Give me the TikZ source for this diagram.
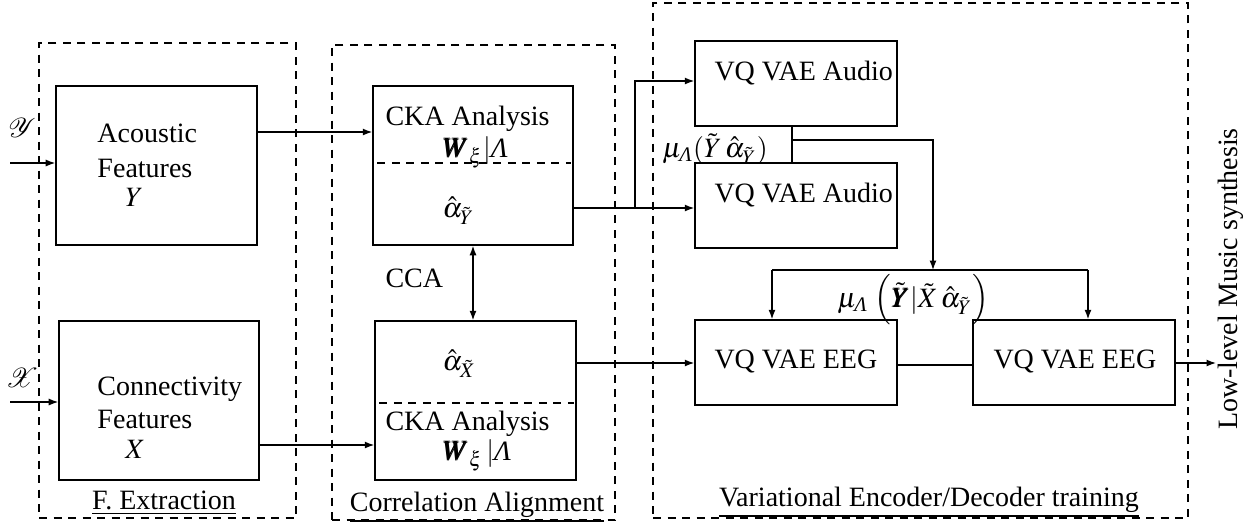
\documentclass[tikz,border=0pt]{standalone}
\usepackage{amsmath}
\usepackage{mathptmx}
\usepackage{mathrsfs}
\usepackage{bm}
\usepackage{fontspec}
\setmainfont{Liberation Serif}
\usetikzlibrary{arrows.meta,fit}
\newcommand{\iLam}{\text{\itshape Λ}}
\tikzset{
  box/.style={draw=black,line width=0.6pt,inner sep=0pt,fit={#1}},
  region/.style={draw=black,line width=0.5pt,dash pattern=on 3.2pt off 2.6pt},
  divider/.style={line width=0.5pt,dash pattern=on 3.2pt off 2.6pt},
  conn/.style={line width=0.5pt},
  arr/.style={line width=0.5pt,-{Latex[length=3.8pt,width=2.8pt]}},
  darr/.style={line width=0.5pt,{Latex[length=3.8pt,width=2.8pt]}-{Latex[length=3.8pt,width=2.8pt]}},
  txt/.style={inner sep=0pt,anchor=base west},
  ctxt/.style={inner sep=0pt,anchor=base},
}
\begin{document}
\begin{tikzpicture}[x=0.4pt,y=-0.4pt,font=\fontsize{11.2}{13.5}\selectfont]
\useasboundingbox (0,0) rectangle (1256,523);
% dashed regions
\node[region,inner sep=0pt,fit={(39,43)(296,518)}] (rfe) {};
\node[region,inner sep=0pt,fit={(332,45)(615,520)}] (rca) {};
\node[region,inner sep=0pt,fit={(653,3)(1188,518)}] (rvae) {};
% boxes
\node[box={(56,86)(257,245)}] (acou) {};
\node[box={(59,321)(259,480)}] (conn) {};
\node[box={(373,86)(573,245)}] (cka1) {};
\node[box={(375,321)(576,480)}] (cka2) {};
\node[box={(695,41)(897,126)}] (aud1) {};
\node[box={(695,163)(897,248)}] (aud2) {};
\node[box={(695,320)(897,405)}] (eeg1) {};
\node[box={(973,320)(1175,405)}] (eeg2) {};
% dividers
\draw[divider] ([xshift=2pt]cka1.west |- 0,163) -- ([xshift=-1pt]cka1.east |- 0,163);
\draw[divider] ([xshift=2pt]cka2.west |- 0,403) -- ([xshift=-1pt]cka2.east |- 0,403);
% texts
\node[txt] (t1) at (97,142) {Acoustic};
\node[txt] (t2) at (97,177) {Features};
\node[txt] (t3) at (125,206) {$Y$};
\node[txt] (t4) at (97,395) {Connectivity};
\node[txt] (t5) at (97,428) {Features};
\node[txt] (t6) at (125,458) {$X$};
\node[ctxt] (lY) at (22,137) {$\mathscr{Y}$};
\node[ctxt] (lX) at (22,387) {$\mathscr{X}$};
\node[txt] (c1) at (385,125) {CKA Analysis};
\node[txt] (c2) at (442,157) {$\bm{W}_{\xi}|\iLam$};
\node[txt] (c3) at (442,217) {$\hat{\alpha}_{\tilde{Y}}$};
\node[txt] (c4) at (442,370) {$\hat{\alpha}_{\tilde{X}}$};
\node[txt] (c5) at (385,430) {CKA Analysis};
\node[txt] (c6) at (442,460) {$\bm{W}_{\xi}\,|\iLam$};
\node[txt] (cca) at (385,287) {CCA};
\node[txt] (a1) at (714,80) {VQ VAE Audio};
\node[txt] (a2) at (714,202) {VQ VAE Audio};
\node[txt] (e1) at (714,368) {VQ VAE EEG};
\node[txt] (e2) at (993,368) {VQ VAE EEG};
\node[txt] (mu1) at (662,157) {$\mu_{\iLam}(\tilde{Y}\,\hat{\alpha}_{\tilde{Y}})$};
\node[txt] (mu2) at (837,307) {$\mu_{\iLam}\;\Bigl(\tilde{\bm{Y}}|\tilde{X}\,\hat{\alpha}_{\tilde{Y}}\Bigr)$};
\node[ctxt] (lfe) at (164,509) {\underline{F. Extraction}};
\node[ctxt] (lca) at (477,511) {\underline{Correlation Alignment}};
\node[ctxt] (lva) at (929,506) {\underline{Variational Encoder/Decoder training}};
\node[rotate=90,inner sep=0pt] (out) at (1231,279) {Low-level Music synthesis};
% connectors
\coordinate (yin) at (10,163);
\coordinate (xin) at (10,402);
\draw[arr] (yin) -- (yin -| acou.west);
\draw[arr] (xin) -- (xin -| conn.west);
\draw[arr] (acou.east |- 0,132) -- (cka1.west |- 0,132);
\draw[arr] (conn.east |- 0,445) -- (cka2.west |- 0,445);
\coordinate (br) at (635,208);
\draw[conn] (cka1.east |- br) -- (br);
\draw[arr] (br) -- (br -| aud2.west);
\draw[arr] (br) -- (635,81) -- (aud1.west |- 0,81);
\draw[darr] (cka1.south -| 473,0) -- (cka2.north -| 473,0);
\draw[arr] (cka2.east |- 0,363) -- (eeg1.west |- 0,363);
\draw[conn] (aud1.south -| 792,0) -- (aud2.north -| 792,0);
\coordinate (j1) at (792,140);
\coordinate (j2) at (933,270);
\draw[arr] (j1) -| (j2);
\draw[conn] (772,270) -- (1088,270);
\draw[arr] (772,270) -- (eeg1.north -| 772,0);
\draw[arr] (1088,270) -- (eeg2.north -| 1088,0);
\draw[conn] (eeg1.east |- 0,365) -- (eeg2.west |- 0,365);
\coordinate (oend) at (1216,363);
\draw[arr] (eeg2.east |- oend) -- (oend);
\end{tikzpicture}
\end{document}
